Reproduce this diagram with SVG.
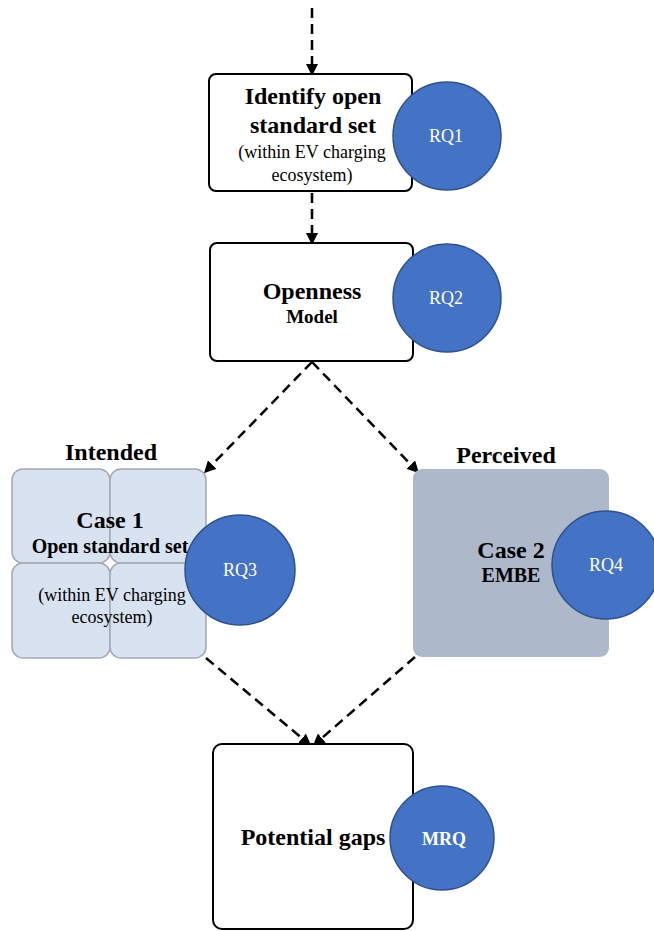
<svg xmlns="http://www.w3.org/2000/svg" width="654" height="931" viewBox="0 0 654 931">
<defs>
<marker id="ah" markerWidth="12" markerHeight="12" refX="9" refY="6" orient="auto" markerUnits="userSpaceOnUse" viewBox="0 0 12 12">
<path d="M0,0 L12,6 L0,12 z" fill="#000"/>
</marker>
<style>
text{font-family:"Liberation Serif","Times New Roman",serif;text-anchor:middle;fill:#000}
.b{font-weight:bold}
.box{fill:#fff;stroke:#000;stroke-width:2}
.rq{fill:#4472c4;stroke:#2f528f;stroke-width:1.5}
.rqt{fill:#fff;font-size:18px}
.con{fill:none;stroke:#000;stroke-width:2.5;stroke-dasharray:10 6;marker-end:url(#ah)}
.sub{fill:#d9e2f1;stroke:#a3a9b3;stroke-width:1.5}
</style>
</defs>
<g id="connectors">
<line class="con" x1="312" y1="8" x2="312" y2="73"/>
<line class="con" x1="312" y1="193" x2="312" y2="242"/>
<line class="con" x1="312" y1="362" x2="206" y2="471"/>
<line class="con" x1="312" y1="362" x2="417" y2="471"/>
<line class="con" x1="206" y1="658" x2="309" y2="744"/>
<line class="con" x1="415" y1="657" x2="315" y2="744"/>
</g>
<g id="identify">
<rect class="box" x="209" y="74" width="203" height="117" rx="7"/>
<text class="b" x="313" y="104" font-size="24">Identify open</text>
<text class="b" x="313" y="133" font-size="24">standard set</text>
<text x="312" y="158" font-size="18">(within EV charging</text>
<text x="312" y="181" font-size="18">ecosystem)</text>
</g>
<g id="rq1">
<circle class="rq" cx="447" cy="136" r="54"/>
<text class="rqt" x="446" y="142">RQ1</text>
</g>
<g id="openness">
<rect class="box" x="210" y="243" width="203" height="118" rx="7"/>
<text class="b" x="312" y="299" font-size="24">Openness</text>
<text class="b" x="312" y="323" font-size="19">Model</text>
</g>
<g id="rq2">
<circle class="rq" cx="447" cy="298" r="54"/>
<text class="rqt" x="446" y="304">RQ2</text>
</g>
<g id="case1">
<text class="b" x="111" y="460" font-size="24">Intended</text>
<rect class="sub" x="12" y="469" width="98" height="94" rx="11"/>
<rect class="sub" x="110" y="469" width="96" height="94" rx="11"/>
<rect class="sub" x="12" y="563" width="98" height="95" rx="11"/>
<rect class="sub" x="110" y="563" width="96" height="95" rx="11"/>
<text class="b" x="110" y="528" font-size="24">Case 1</text>
<text class="b" x="110" y="553" font-size="20">Open standard set</text>
<text x="112" y="601" font-size="18">(within EV charging</text>
<text x="112" y="623" font-size="18">ecosystem)</text>
</g>
<g id="rq3">
<circle class="rq" cx="240" cy="570" r="55"/>
<text class="rqt" x="240" y="576">RQ3</text>
</g>
<g id="case2">
<text class="b" x="506" y="463" font-size="24">Perceived</text>
<rect x="413" y="469" width="196" height="188" rx="9" fill="#adb9ca"/>
<text class="b" x="511" y="558" font-size="24">Case 2</text>
<text class="b" x="511" y="582" font-size="20">EMBE</text>
</g>
<g id="rq4">
<circle class="rq" cx="606" cy="565" r="54"/>
<text class="rqt" x="606" y="571">RQ4</text>
</g>
<g id="gaps">
<rect class="box" x="213" y="744" width="200" height="185" rx="9"/>
<text class="b" x="313" y="845" font-size="24">Potential gaps</text>
</g>
<g id="mrq">
<circle class="rq" cx="442" cy="838" r="52"/>
<text class="rqt b" x="444" y="845" font-size="19">MRQ</text>
</g>
</svg>
